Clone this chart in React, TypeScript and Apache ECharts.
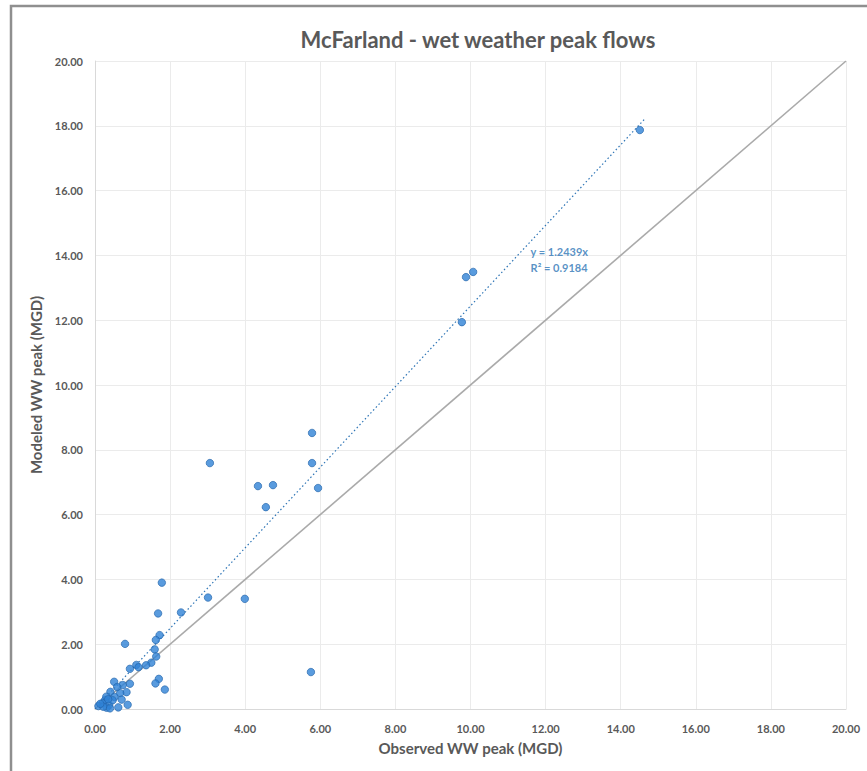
import React, { useEffect, useRef } from "react";
import * as echarts from "echarts";

const titleText = "McFarland - wet weather peak flows";
const xAxisTitle = "Observed WW peak (MGD)";
const yAxisTitle = "Modeled WW peak (MGD)";

const observed = [
  14.51, 10.07, 9.88, 9.77, 5.78, 5.78, 5.94, 4.74, 4.34, 4.55, 3.06, 5.75, 3.99, 3.01, 2.29,
  1.78, 1.68, 1.72, 1.62, 0.8, 1.59, 1.63, 1.5, 1.36, 1.1, 1.16, 0.93, 1.7, 1.61, 1.86,
  0.51, 0.93, 0.74, 0.84, 0.67, 0.41, 0.52, 0.71, 0.87, 0.62, 0.27, 0.2, 0.38, 0.09, 0.31,
  0.47, 0.3, 0.22, 0.4, 0.59, 0.14, 0.35,
];
const modeled = [
  17.87, 13.49, 13.33, 11.94, 8.52, 7.59, 6.82, 6.91, 6.88, 6.23, 7.59, 1.14, 3.4, 3.44, 2.98,
  3.9, 2.95, 2.28, 2.13, 2.01, 1.84, 1.62, 1.43, 1.35, 1.36, 1.29, 1.24, 0.93, 0.79, 0.6,
  0.84, 0.78, 0.74, 0.52, 0.49, 0.53, 0.37, 0.29, 0.13, 0.05, 0.28, 0.18, 0.12, 0.09, 0.04,
  0.27, 0.38, 0.07, 0.02, 0.68, 0.16, 0.3,
];

const trendSlope = 1.2439;
const trendR2 = 0.9184;
const trendEndX = 14.65;
const trendLabelAt = [11.6, 13.86];
const axisMin = 0;
const axisMax = 20;
const axisInterval = 2;

export default function App() {
  const ref = useRef<HTMLDivElement>(null);
  useEffect(() => {
    if (!ref.current) return;
    const chart = echarts.init(ref.current, null, { renderer: "svg" });
    const font = "Lato, 'Open Sans', sans-serif";
    const points = observed.map((x, i) => [x, modeled[i]]);
    const axisCommon = {
      type: "value",
      min: axisMin,
      max: axisMax,
      interval: axisInterval,
      axisTick: { show: false },
      axisLine: { show: true, lineStyle: { color: "#d9d9d9", width: 1 } },
      splitLine: { show: true, lineStyle: { color: "#ebebeb", width: 1 } },
      axisLabel: {
        color: "#595959",
        fontFamily: font,
        fontSize: 11,
        fontWeight: "bold",
        formatter: (v: number) => v.toFixed(2),
      },
      nameLocation: "middle",
      nameTextStyle: { color: "#595959", fontFamily: font, fontSize: 15, fontWeight: "bold" },
    };
    chart.setOption({
      animation: false,
      backgroundColor: "#ffffff",
      title: {
        text: titleText,
        left: 473,
        top: 23,
        textAlign: "center",
        textStyle: { color: "#595959", fontFamily: font, fontSize: 22, fontWeight: "bold" },
      },
      grid: { left: 95, right: 21, top: 61, bottom: 62, containLabel: false },
      xAxis: {
        ...axisCommon,
        name: xAxisTitle,
        nameGap: 31,
        axisLabel: { ...axisCommon.axisLabel, margin: 14 },
      },
      yAxis: {
        ...axisCommon,
        name: yAxisTitle,
        nameGap: 46,
        axisLabel: { ...axisCommon.axisLabel, margin: 12 },
      },
      graphic: [
        {
          type: "rect",
          shape: { x: 11, y: 6, width: 900, height: 800 },
          style: { fill: "none", stroke: "#8f8f8f", lineWidth: 2.5 },
          silent: true,
        },
      ],
      series: [
        {
          type: "line",
          data: [
            [axisMin, axisMin],
            [axisMax, axisMax],
          ],
          symbol: "none",
          lineStyle: { color: "#aaaaaa", width: 1.6 },
          z: 2,
        },
        {
          type: "line",
          data: [
            [0, 0],
            [trendEndX, trendSlope * trendEndX],
          ],
          symbol: "none",
          lineStyle: { color: "#2e75b6", width: 1.2, type: [1.5, 2.5] },
          z: 3,
        },
        {
          type: "scatter",
          data: points,
          symbol: "circle",
          symbolSize: 7.5,
          itemStyle: { color: "#2f82d6", borderColor: "#2263a8", borderWidth: 0.8 },
          z: 4,
        },
        {
          type: "scatter",
          data: [trendLabelAt],
          symbolSize: 0,
          silent: true,
          label: {
            show: true,
            position: "right",
            distance: 0,
            formatter: `y = ${trendSlope}x\nR² = ${trendR2}`,
            color: "#2e75b6",
            fontFamily: font,
            fontSize: 11,
            fontWeight: "bold",
            lineHeight: 16,
          },
          z: 5,
        },
      ],
    });
    return () => chart.dispose();
  }, []);
  return (
    <div
      ref={ref}
      style={{ position: "fixed", left: 0, top: 0, width: 867, height: 771, background: "#fff" }}
    />
  );
}
